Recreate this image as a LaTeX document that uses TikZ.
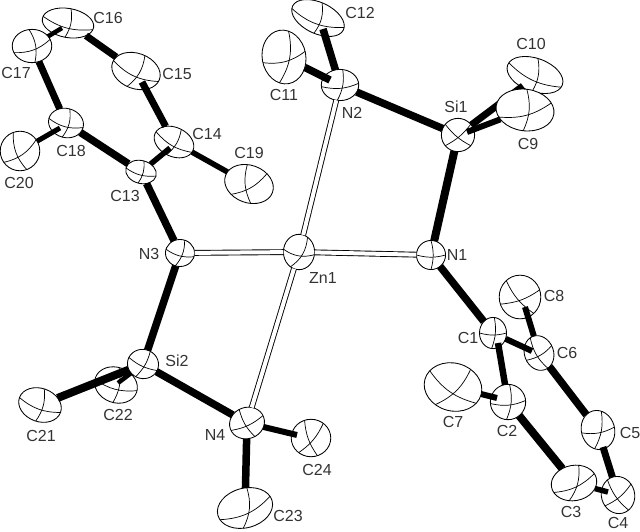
\documentclass[tikz,border=0pt]{standalone}
\usepackage{fontspec}
\setmainfont{Liberation Sans}
\usetikzlibrary{shapes.geometric}
\tikzset{
  atomnode/.style={ellipse,draw=black,fill=white,line width=0.85pt,inner sep=0pt,outer sep=0pt},
  oct/.style={draw=black,line width=0.7pt},
  bondline/.style={draw=black,line width=#1,line cap=butt},
  bondline/.default=7pt,
  znbond/.style={draw=black,line width=0.9pt,double=white,double distance=4pt},
  lab/.style={text=black!80,font=\fontsize{16}{16}\selectfont,inner sep=0pt}
}
% id, x, y, rx, ry, rot (page), page angle 1, page angle 2, bend
\newcommand\atom[9]{%
  \pgfmathsetmacro\aA{#7-#6}\pgfmathsetmacro\aB{#7-#6+180}%
  \pgfmathsetmacro\aC{#8-#6}\pgfmathsetmacro\aD{#8-#6+180}%
  \node[atomnode,minimum width=#4*2.08pt,minimum height=#5*2.08pt,rotate=#6] (#1) at (#2,#3) {};
  \draw[oct] (#1.\aA) to[bend left=#9] (#1.\aB);
  \draw[oct] (#1.\aC) to[bend left=#9] (#1.\aD);
}
\begin{document}
\begin{tikzpicture}[x=1pt,y=-1pt]
\useasboundingbox (0,0) rectangle (640,531);
% ---- atoms
\atom{C16}{68}{23}{25}{14}{-10}{-15}{78}{20}
\atom{C17}{32}{46}{19}{16}{0}{20}{100}{22}
\atom{C15}{136}{71}{24}{17}{-20}{-25}{60}{22}
\atom{C18}{66}{123}{17}{14}{-15}{-15}{75}{22}
\atom{C14}{174}{142}{20}{14}{-25}{-30}{60}{20}
\atom{C13}{141}{172}{15}{11}{-15}{-15}{75}{20}
\atom{C19}{249}{184}{24}{18}{-20}{30}{-85}{20}
\atom{C20}{20}{151}{19}{19}{0}{35}{-70}{22}
\atom{C11}{284}{57}{21}{26}{10}{15}{80}{22}
\atom{C12}{318}{18}{27}{15}{-25}{-20}{75}{22}
\atom{N3}{180}{253}{14}{13}{0}{-15}{70}{20}
\atom{Zn1}{299}{252}{15}{17}{0}{-10}{60}{25}
\atom{N1}{431}{255}{14}{14}{0}{0}{90}{15}
\atom{N2}{340}{85}{18}{15}{0}{5}{80}{18}
\atom{Si1}{458}{135}{16}{16}{0}{-40}{40}{12}
\atom{C10}{535}{75}{28}{16}{-20}{-25}{80}{20}
\coordinate (c10in) at (523,86);
\draw[bondline=7pt] (Si1) -- (c10in);
\atom{C9}{525}{110}{28}{20}{-8}{15}{85}{20}
\coordinate (si1in) at (467,132);
\draw[bondline=6pt] (C9) -- (si1in);
\atom{Si2}{143}{364}{15}{14}{-15}{-25}{60}{15}
\atom{C22}{116}{385}{21}{17}{-20}{-15}{80}{20}
\coordinate (c22in) at (118,383);
\draw[bondline=4.5pt] (Si2) -- (c22in);
\atom{C21}{40}{405}{21}{16}{-20}{-20}{75}{20}
\atom{N4}{247}{423}{17}{15}{20}{25}{-60}{15}
\atom{C24}{311}{438}{19}{18}{0}{50}{-70}{15}
\atom{C23}{245}{508}{27}{19}{15}{25}{85}{22}
\atom{C8}{520}{297}{20}{21}{0}{20}{-50}{15}
\atom{C1}{493}{333}{13}{15}{0}{0}{85}{15}
\atom{C6}{539}{353}{14}{17}{20}{30}{-60}{18}
\atom{C7}{453}{387}{28}{23}{-15}{-35}{45}{20}
\atom{C2}{508}{402}{17}{17}{0}{5}{85}{18}
\atom{C5}{598}{430}{16}{19}{15}{10}{80}{18}
\atom{C3}{574}{483}{22}{17}{10}{25}{75}{20}
\atom{C4}{618}{495}{16}{18}{15}{40}{-55}{15}
% ---- free bond ends inside atoms
\coordinate (c16in) at (62,28);
\coordinate (c18in) at (60,128);
\coordinate (c14in) at (170,148);
\coordinate (c15in) at (142,82);
\coordinate (n2inA) at (330,80);
\coordinate (c12in) at (323,29);
\coordinate (c24in) at (297,435);
\coordinate (c1in) at (498,343);
\coordinate (c6in) at (532,351);
\coordinate (c8in) at (525,307);
\coordinate (c2in) at (497,398);
\coordinate (c5in) at (603,447);
\coordinate (c4in) at (608,492);
% ---- bonds
\draw[bondline=4.5pt] (C17) -- (c16in);
\draw[bondline=7pt] (C16) -- (C15);
\draw[bondline=7pt] (C17) -- (C18);
\draw[bondline=5pt] (C20) -- (c18in);
\draw[bondline=7.5pt] (C18) -- (C13);
\draw[bondline=5.5pt] (C13) -- (c14in);
\draw[bondline=7pt] (C14) -- (c15in);
\draw[bondline=5.5pt] (C14) -- (C19);
\draw[bondline=7.5pt] (C13) -- (N3);
\draw[bondline=7.5pt] (C11) -- (n2inA);
\draw[bondline=7.5pt] (N2) -- (c12in);
\draw[bondline=7.5pt] (N2) -- (Si1);
\draw[bondline=8pt] (Si1) -- (N1);
\draw[bondline=7.5pt] (N3) -- (Si2);
\draw[bondline=8pt] (C21) -- (Si2);
\draw[bondline=7.5pt] (Si2) -- (N4);
\draw[bondline=6pt] (N4) -- (c24in);
\draw[bondline=7.5pt] (N4) -- (C23);
\draw[bondline=7.5pt] (N1) -- (C1);
\draw[bondline=6pt] (C1) -- (c6in);
\draw[bondline=6.5pt] (c1in) -- (C2);
\draw[bondline=6pt] (C6) -- (c8in);
\draw[bondline=6pt] (C7) -- (c2in);
\draw[bondline=8pt] (C2) -- (C3);
\draw[bondline=7.5pt] (C6) -- (C5);
\draw[bondline=7pt] (C4) -- (c5in);
\draw[bondline=5.5pt] (C3) -- (c4in);
% ---- zinc bonds
\draw[znbond] (Zn1) -- (N2);
\draw[znbond] (Zn1) -- (N3);
\draw[znbond] (Zn1) -- (N1);
\draw[znbond] (Zn1) -- (N4);
% ---- labels
\node[lab] (lC16) at (108,18) {C16};
\node[lab] (lC15) at (177,74) {C15};
\node[lab] (lC17) at (16,73) {C17};
\node[lab] (lC14) at (207,134) {C14};
\node[lab] (lC19) at (249,153) {C19};
\node[lab] (lC18) at (71,151) {C18};
\node[lab] (lC20) at (19,183) {C20};
\node[lab] (lC13) at (125,196) {C13};
\node[lab] (lC11) at (284,95) {C11};
\node[lab] (lN3) at (149,254) {N3};
\node[lab] (lC12) at (360,13) {C12};
\node[lab] (lC10) at (531,44) {C10};
\node[lab] (lSi1) at (456,107) {Si1};
\node[lab] (lN2) at (352,113) {N2};
\node[lab] (lC9) at (528,144) {C9};
\node[lab] (lN1) at (457,255) {N1};
\node[lab] (lZn1) at (323,278) {Zn1};
\node[lab] (lSi2) at (177,361) {Si2};
\node[lab] (lC22) at (118,415) {C22};
\node[lab] (lC21) at (41,436) {C21};
\node[lab] (lN4) at (215,435) {N4};
\node[lab] (lC24) at (317,470) {C24};
\node[lab] (lC23) at (288,516) {C23};
\node[lab] (lC8) at (554,296) {C8};
\node[lab] (lC1) at (468,338) {C1};
\node[lab] (lC6) at (567,353) {C6};
\node[lab] (lC7) at (453,422) {C7};
\node[lab] (lC2) at (507,431) {C2};
\node[lab] (lC5) at (630,433) {C5};
\node[lab] (lC3) at (571,512) {C3};
\node[lab] (lC4) at (618,523) {C4};
\end{tikzpicture}
\end{document}
